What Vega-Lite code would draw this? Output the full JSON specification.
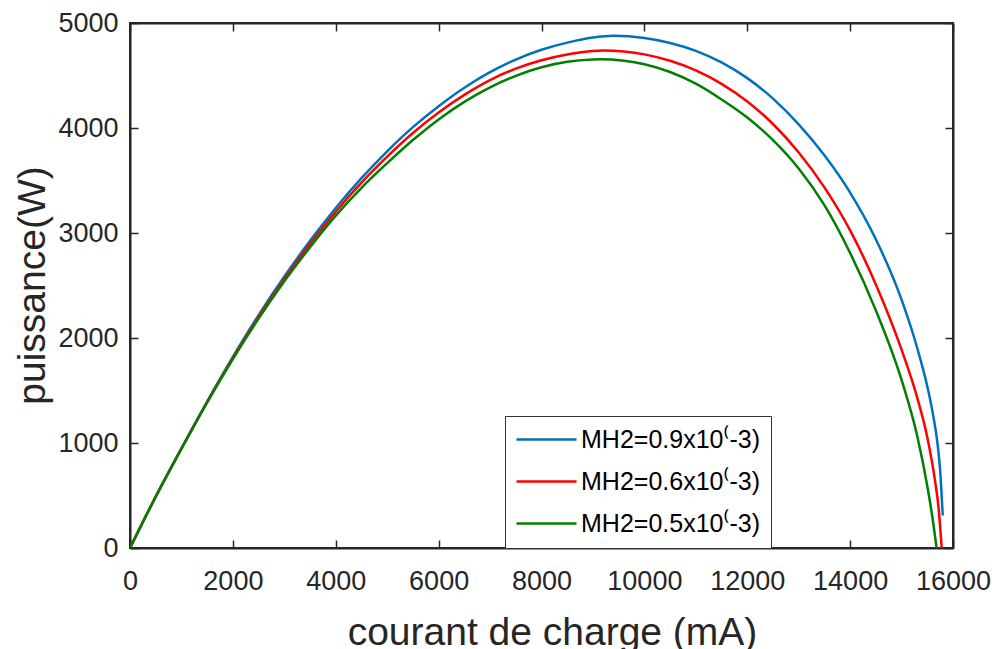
{
  "$schema": "https://vega.github.io/schema/vega-lite/v6.json",
  "width": 823,
  "height": 525,
  "autosize": {"type": "none"},
  "padding": {"left": 130, "top": 23, "right": 39, "bottom": 101},
  "background": "white",
  "config": {
    "font": "Liberation Sans",
    "view": {"stroke": "#262626", "strokeWidth": 2},
    "axis": {
      "grid": false,
      "domainColor": "#262626",
      "domainWidth": 2,
      "tickColor": "#262626",
      "tickWidth": 1.5,
      "tickSize": -8,
      "labelColor": "#262626",
      "labelFont": "Liberation Sans",
      "labelFontSize": 27,
      "titleColor": "#262626",
      "titleFont": "Liberation Sans",
      "titleFontSize": 39,
      "titleFontWeight": "normal"
    }
  },
  "data": {
    "values": [
      {"serie": "MH2=0.9x10⁽-3)", "courant": 0, "puissance": 0},
      {"serie": "MH2=0.9x10⁽-3)", "courant": 500, "puissance": 490},
      {"serie": "MH2=0.9x10⁽-3)", "courant": 1000, "puissance": 950},
      {"serie": "MH2=0.9x10⁽-3)", "courant": 1500, "puissance": 1395},
      {"serie": "MH2=0.9x10⁽-3)", "courant": 2000, "puissance": 1820},
      {"serie": "MH2=0.9x10⁽-3)", "courant": 2500, "puissance": 2218},
      {"serie": "MH2=0.9x10⁽-3)", "courant": 3000, "puissance": 2585},
      {"serie": "MH2=0.9x10⁽-3)", "courant": 3500, "puissance": 2925},
      {"serie": "MH2=0.9x10⁽-3)", "courant": 4000, "puissance": 3238},
      {"serie": "MH2=0.9x10⁽-3)", "courant": 4500, "puissance": 3522},
      {"serie": "MH2=0.9x10⁽-3)", "courant": 5000, "puissance": 3778},
      {"serie": "MH2=0.9x10⁽-3)", "courant": 5500, "puissance": 4008},
      {"serie": "MH2=0.9x10⁽-3)", "courant": 6000, "puissance": 4208},
      {"serie": "MH2=0.9x10⁽-3)", "courant": 6500, "puissance": 4384},
      {"serie": "MH2=0.9x10⁽-3)", "courant": 7000, "puissance": 4532},
      {"serie": "MH2=0.9x10⁽-3)", "courant": 7500, "puissance": 4652},
      {"serie": "MH2=0.9x10⁽-3)", "courant": 8000, "puissance": 4745},
      {"serie": "MH2=0.9x10⁽-3)", "courant": 8500, "puissance": 4813},
      {"serie": "MH2=0.9x10⁽-3)", "courant": 9000, "puissance": 4862},
      {"serie": "MH2=0.9x10⁽-3)", "courant": 9400, "puissance": 4878},
      {"serie": "MH2=0.9x10⁽-3)", "courant": 10000, "puissance": 4857},
      {"serie": "MH2=0.9x10⁽-3)", "courant": 10500, "puissance": 4810},
      {"serie": "MH2=0.9x10⁽-3)", "courant": 11000, "puissance": 4735},
      {"serie": "MH2=0.9x10⁽-3)", "courant": 11500, "puissance": 4625},
      {"serie": "MH2=0.9x10⁽-3)", "courant": 12000, "puissance": 4475},
      {"serie": "MH2=0.9x10⁽-3)", "courant": 12500, "puissance": 4280},
      {"serie": "MH2=0.9x10⁽-3)", "courant": 13000, "puissance": 4035},
      {"serie": "MH2=0.9x10⁽-3)", "courant": 13500, "puissance": 3740},
      {"serie": "MH2=0.9x10⁽-3)", "courant": 14000, "puissance": 3385},
      {"serie": "MH2=0.9x10⁽-3)", "courant": 14500, "puissance": 2940},
      {"serie": "MH2=0.9x10⁽-3)", "courant": 15000, "puissance": 2365},
      {"serie": "MH2=0.9x10⁽-3)", "courant": 15300, "puissance": 1912},
      {"serie": "MH2=0.9x10⁽-3)", "courant": 15500, "puissance": 1540},
      {"serie": "MH2=0.9x10⁽-3)", "courant": 15600, "puissance": 1303},
      {"serie": "MH2=0.9x10⁽-3)", "courant": 15700, "puissance": 990},
      {"serie": "MH2=0.9x10⁽-3)", "courant": 15750, "puissance": 740},
      {"serie": "MH2=0.9x10⁽-3)", "courant": 15800, "puissance": 310},
      {"serie": "MH2=0.6x10⁽-3)", "courant": 0, "puissance": 0},
      {"serie": "MH2=0.6x10⁽-3)", "courant": 500, "puissance": 489},
      {"serie": "MH2=0.6x10⁽-3)", "courant": 1000, "puissance": 946},
      {"serie": "MH2=0.6x10⁽-3)", "courant": 1500, "puissance": 1390},
      {"serie": "MH2=0.6x10⁽-3)", "courant": 2000, "puissance": 1810},
      {"serie": "MH2=0.6x10⁽-3)", "courant": 2500, "puissance": 2200},
      {"serie": "MH2=0.6x10⁽-3)", "courant": 3000, "puissance": 2560},
      {"serie": "MH2=0.6x10⁽-3)", "courant": 3500, "puissance": 2895},
      {"serie": "MH2=0.6x10⁽-3)", "courant": 4000, "puissance": 3203},
      {"serie": "MH2=0.6x10⁽-3)", "courant": 4500, "puissance": 3480},
      {"serie": "MH2=0.6x10⁽-3)", "courant": 5000, "puissance": 3728},
      {"serie": "MH2=0.6x10⁽-3)", "courant": 5500, "puissance": 3953},
      {"serie": "MH2=0.6x10⁽-3)", "courant": 6000, "puissance": 4148},
      {"serie": "MH2=0.6x10⁽-3)", "courant": 6500, "puissance": 4316},
      {"serie": "MH2=0.6x10⁽-3)", "courant": 7000, "puissance": 4457},
      {"serie": "MH2=0.6x10⁽-3)", "courant": 7500, "puissance": 4565},
      {"serie": "MH2=0.6x10⁽-3)", "courant": 8000, "puissance": 4645},
      {"serie": "MH2=0.6x10⁽-3)", "courant": 8500, "puissance": 4700},
      {"serie": "MH2=0.6x10⁽-3)", "courant": 9000, "puissance": 4733},
      {"serie": "MH2=0.6x10⁽-3)", "courant": 9200, "puissance": 4737},
      {"serie": "MH2=0.6x10⁽-3)", "courant": 9600, "puissance": 4728},
      {"serie": "MH2=0.6x10⁽-3)", "courant": 10000, "puissance": 4701},
      {"serie": "MH2=0.6x10⁽-3)", "courant": 10500, "puissance": 4640},
      {"serie": "MH2=0.6x10⁽-3)", "courant": 11000, "puissance": 4548},
      {"serie": "MH2=0.6x10⁽-3)", "courant": 11500, "puissance": 4420},
      {"serie": "MH2=0.6x10⁽-3)", "courant": 12000, "puissance": 4252},
      {"serie": "MH2=0.6x10⁽-3)", "courant": 12500, "puissance": 4038},
      {"serie": "MH2=0.6x10⁽-3)", "courant": 13000, "puissance": 3767},
      {"serie": "MH2=0.6x10⁽-3)", "courant": 13500, "puissance": 3435},
      {"serie": "MH2=0.6x10⁽-3)", "courant": 14000, "puissance": 3025},
      {"serie": "MH2=0.6x10⁽-3)", "courant": 14500, "puissance": 2510},
      {"serie": "MH2=0.6x10⁽-3)", "courant": 15000, "puissance": 1889},
      {"serie": "MH2=0.6x10⁽-3)", "courant": 15300, "puissance": 1439},
      {"serie": "MH2=0.6x10⁽-3)", "courant": 15500, "puissance": 1054},
      {"serie": "MH2=0.6x10⁽-3)", "courant": 15650, "puissance": 642},
      {"serie": "MH2=0.6x10⁽-3)", "courant": 15720, "puissance": 380},
      {"serie": "MH2=0.6x10⁽-3)", "courant": 15780, "puissance": 0},
      {"serie": "MH2=0.5x10⁽-3)", "courant": 0, "puissance": 0},
      {"serie": "MH2=0.5x10⁽-3)", "courant": 500, "puissance": 488},
      {"serie": "MH2=0.5x10⁽-3)", "courant": 1000, "puissance": 945},
      {"serie": "MH2=0.5x10⁽-3)", "courant": 1500, "puissance": 1386},
      {"serie": "MH2=0.5x10⁽-3)", "courant": 2000, "puissance": 1800},
      {"serie": "MH2=0.5x10⁽-3)", "courant": 2500, "puissance": 2185},
      {"serie": "MH2=0.5x10⁽-3)", "courant": 3000, "puissance": 2540},
      {"serie": "MH2=0.5x10⁽-3)", "courant": 3500, "puissance": 2865},
      {"serie": "MH2=0.5x10⁽-3)", "courant": 4000, "puissance": 3165},
      {"serie": "MH2=0.5x10⁽-3)", "courant": 4500, "puissance": 3430},
      {"serie": "MH2=0.5x10⁽-3)", "courant": 5000, "puissance": 3665},
      {"serie": "MH2=0.5x10⁽-3)", "courant": 5500, "puissance": 3885},
      {"serie": "MH2=0.5x10⁽-3)", "courant": 6000, "puissance": 4082},
      {"serie": "MH2=0.5x10⁽-3)", "courant": 6500, "puissance": 4249},
      {"serie": "MH2=0.5x10⁽-3)", "courant": 7000, "puissance": 4387},
      {"serie": "MH2=0.5x10⁽-3)", "courant": 7500, "puissance": 4497},
      {"serie": "MH2=0.5x10⁽-3)", "courant": 8000, "puissance": 4578},
      {"serie": "MH2=0.5x10⁽-3)", "courant": 8500, "puissance": 4630},
      {"serie": "MH2=0.5x10⁽-3)", "courant": 9000, "puissance": 4652},
      {"serie": "MH2=0.5x10⁽-3)", "courant": 9150, "puissance": 4654},
      {"serie": "MH2=0.5x10⁽-3)", "courant": 9600, "puissance": 4640},
      {"serie": "MH2=0.5x10⁽-3)", "courant": 10000, "puissance": 4607},
      {"serie": "MH2=0.5x10⁽-3)", "courant": 10500, "puissance": 4533},
      {"serie": "MH2=0.5x10⁽-3)", "courant": 11000, "puissance": 4422},
      {"serie": "MH2=0.5x10⁽-3)", "courant": 11500, "puissance": 4272},
      {"serie": "MH2=0.5x10⁽-3)", "courant": 12000, "puissance": 4100},
      {"serie": "MH2=0.5x10⁽-3)", "courant": 12500, "puissance": 3885},
      {"serie": "MH2=0.5x10⁽-3)", "courant": 13000, "puissance": 3615},
      {"serie": "MH2=0.5x10⁽-3)", "courant": 13500, "puissance": 3265},
      {"serie": "MH2=0.5x10⁽-3)", "courant": 14000, "puissance": 2810},
      {"serie": "MH2=0.5x10⁽-3)", "courant": 14500, "puissance": 2263},
      {"serie": "MH2=0.5x10⁽-3)", "courant": 15000, "puissance": 1601},
      {"serie": "MH2=0.5x10⁽-3)", "courant": 15300, "puissance": 1076},
      {"serie": "MH2=0.5x10⁽-3)", "courant": 15500, "puissance": 590},
      {"serie": "MH2=0.5x10⁽-3)", "courant": 15600, "puissance": 290},
      {"serie": "MH2=0.5x10⁽-3)", "courant": 15681, "puissance": 0}
    ]
  },
  "layer": [
    {
      "mark": {"type": "line", "strokeWidth": 2.5, "interpolate": "monotone", "clip": true},
      "encoding": {
        "x": {
          "field": "courant", "type": "quantitative",
          "scale": {"domain": [0, 16000], "nice": false, "zero": true},
          "axis": {
            "values": [0, 2000, 4000, 6000, 8000, 10000, 12000, 14000, 16000],
            "format": "d",
            "labelPadding": 28,
            "labelBaseline": "top",
            "labelFlush": false,
            "title": "courant de charge (mA)",
            "titleX": 422,
            "titleY": 96,
            "titleBaseline": "alphabetic",
            "titleAlign": "center"
          }
        },
        "y": {
          "field": "puissance", "type": "quantitative",
          "scale": {"domain": [0, 5000], "nice": false},
          "axis": {
            "values": [0, 1000, 2000, 3000, 4000, 5000],
            "format": "d",
            "labelPadding": 20,
            "labelFlush": false,
            "title": "puissance(W)",
            "titleAngle": 270,
            "titleX": -86,
            "titleY": 262,
            "titleBaseline": "alphabetic",
            "titleAlign": "center"
          }
        },
        "color": {
          "field": "serie", "type": "nominal",
          "scale": {
            "domain": ["MH2=0.9x10⁽-3)", "MH2=0.6x10⁽-3)", "MH2=0.5x10⁽-3)"],
            "range": ["#0072BD", "#FF0000", "#008000"]
          },
          "legend": {
            "orient": "none",
            "legendX": 375,
            "legendY": 393,
            "title": null,
            "symbolType": "M-5,0H1",
            "symbolSize": 400,
            "symbolStrokeWidth": 2.5,
            "symbolOffset": 38,
            "labelFont": "Liberation Sans",
            "labelFontSize": 25,
            "labelColor": "#000000",
            "labelOffset": 2,
            "labelLimit": 400,
            "rowPadding": 16,
            "padding": 11,
            "strokeColor": "#333333",
            "fillColor": "white"
          }
        }
      }
    },
    {
      "mark": {"type": "line", "opacity": 0},
      "encoding": {
        "x": {
          "field": "courant", "type": "quantitative",
          "axis": {
            "orient": "top",
            "values": [0, 2000, 4000, 6000, 8000, 10000, 12000, 14000, 16000],
            "labels": false,
            "title": null
          }
        },
        "y": {
          "field": "puissance", "type": "quantitative",
          "axis": {
            "orient": "right",
            "values": [0, 1000, 2000, 3000, 4000, 5000],
            "labels": false,
            "title": null
          }
        },
        "detail": {"field": "serie"}
      }
    }
  ],
  "resolve": {"axis": {"x": "independent", "y": "independent"}}
}
